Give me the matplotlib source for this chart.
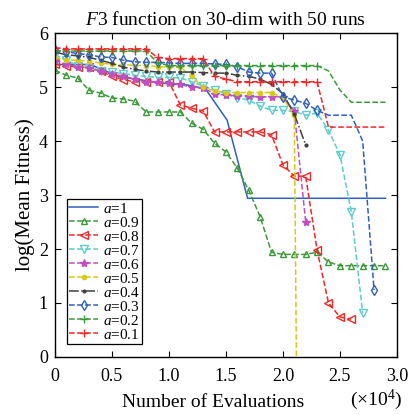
import matplotlib
matplotlib.use("Agg")
import matplotlib.pyplot as plt
import numpy as np

plt.rcParams['font.family'] = ['Liberation Serif', 'DejaVu Serif']
plt.rcParams['mathtext.fontset'] = 'custom'
plt.rcParams['mathtext.rm'] = 'Liberation Serif'
plt.rcParams['mathtext.it'] = 'Liberation Serif:italic'

# x positions: evaluations (x10^4), one point every 1000 evaluations
x_all = [round(0.1 * i, 1) for i in range(30)]

labels = ['$a$=1', '$a$=0.9', '$a$=0.8', '$a$=0.7', '$a$=0.6',
          '$a$=0.5', '$a$=0.4', '$a$=0.3', '$a$=0.2', '$a$=0.1']

# a = 1 (irregular sample points)
x_a10 = [0.0, 0.31, 0.57, 1.0, 1.16, 1.32, 1.51, 1.69, 2.9]
y_a10 = [5.42, 5.42, 5.19, 5.06, 5.04, 4.97, 4.39, 2.94, 2.94]

y_a09 = [5.31, 5.22, 5.17, 4.94, 4.89, 4.80, 4.78, 4.74, 4.54, 4.54,
         4.54, 4.54, 4.33, 4.22, 3.96, 3.80, 3.50, 3.09, 2.60, 1.94,
         1.90, 1.90, 1.90, 1.94, 1.76, 1.69, 1.69, 1.69, 1.69, 1.69]
y_a08 = [5.42, 5.40, 5.37, 5.37, 5.30, 5.20, 5.14, 5.10, 5.10, 5.10,
         5.10, 4.67, 4.61, 4.56, 4.17, 4.17, 4.17, 4.17, 4.17, 4.12,
         3.56, 3.35, 3.35, 1.98, 1.00, 0.74, 0.70]
y_a07 = [5.60, 5.50, 5.40, 5.35, 5.30, 5.28, 5.25, 5.22, 5.20, 5.18,
         5.18, 5.17, 5.10, 5.02, 4.95, 4.88, 4.80, 4.76, 4.65, 4.57,
         4.57, 4.55, 4.48, 4.52, 4.20, 3.75, 2.69, 0.81]
y_a06 = [5.50, 5.42, 5.38, 5.35, 5.30, 5.25, 5.20, 5.15, 5.10, 5.10,
         5.08, 5.05, 5.00, 4.98, 4.88, 4.85, 4.84, 4.83, 4.82, 4.82,
         4.82, 4.55, 2.50]
y_a05 = [5.55, 5.50, 5.50, 5.48, 5.45, 5.42, 5.42, 5.40, 5.40, 5.38,
         5.37, 5.37, 5.20, 5.00, 4.93, 4.90, 4.90, 4.90, 4.90, 4.90,
         4.80, 4.48, -20.0]
y_a04 = [5.65, 5.60, 5.58, 5.55, 5.50, 5.44, 5.37, 5.33, 5.30, 5.28,
         5.28, 5.28, 5.28, 5.27, 5.26, 5.26, 5.22, 5.20, 5.15, 5.05,
         4.88, 4.50, 3.93]
y_a03 = [5.68, 5.66, 5.62, 5.60, 5.56, 5.55, 5.50, 5.47, 5.46, 5.46,
         5.45, 5.44, 5.44, 5.44, 5.43, 5.42, 5.38, 5.28, 5.26, 5.26,
         4.82, 4.76, 4.70, 4.57, 4.48, 4.48, 4.48, 4.00, 1.24]
y_a02 = [5.67, 5.67, 5.67, 5.67, 5.67, 5.67, 5.67, 5.67, 5.67, 5.45,
         5.40, 5.40, 5.40, 5.40, 5.40, 5.40, 5.40, 5.40, 5.40, 5.40,
         5.40, 5.40, 5.40, 5.40, 5.30, 4.95, 4.72, 4.72, 4.72, 4.72]
y_a01 = [5.73, 5.71, 5.71, 5.71, 5.71, 5.71, 5.71, 5.71, 5.71, 5.55,
         5.53, 5.53, 5.53, 5.53, 5.20, 5.15, 5.10, 5.10, 5.10, 5.10,
         5.10, 5.10, 5.10, 5.10, 4.26, 4.26, 4.26, 4.26, 4.26, 4.26]

series = [y_a09, y_a08, y_a07, y_a06, y_a05, y_a04, y_a03, y_a02, y_a01]
colors = ['#3a9a3a', '#f02828', '#5ccccc', '#c050c0', '#d8c818',
          '#404040', '#2f5fbf', '#3a9a3a', '#f02828']
markers = ['^', '<', 'v', '*', '.', '.', 'd', '+', '+']
msizes = [5, 6, 6, 6, 6, 4, 5, 6, 6]
markevery_list = [None, None, None, None, None, None,
                  list(range(24)) + [28], list(range(24)), list(range(24))]
linestyles = ['--', '--', '--', '--', '--', '-.', '--', '--', '--']

fig = plt.figure(figsize=(4.10, 4.15), dpi=100)
ax = fig.add_axes([0.134, 0.140, 0.834, 0.780])

ax.plot(x_a10, y_a10, '-', color='#2f5fbf', lw=1.1, label=labels[0])
for ys, c, m, ms, me, ls, lab in zip(series, colors, markers, msizes,
                                     markevery_list, linestyles, labels[1:]):
    xs = x_all[:len(ys)]
    mfc = c if m in ('.', '+', '*') else 'none'
    ax.plot(xs, ys, linestyle=ls, color=c, lw=1.1, marker=m, ms=ms,
            mfc=mfc, mec=c, mew=1.0, markevery=me, label=lab)

ax.set_xlim(0, 3.0)
ax.set_ylim(0, 6)
ax.set_xticks([0, 0.5, 1.0, 1.5, 2.0, 2.5, 3.0])
ax.set_xticklabels(['0', '0.5', '1.0', '1.5', '2.0', '2.5', '3.0'])
ax.set_yticks([0, 1, 2, 3, 4, 5, 6])
ax.tick_params(direction='in', top=True, right=True, labelsize=13,
               length=4, width=0.8)
ax.tick_params(axis='x', pad=8)
ax.tick_params(axis='y', pad=5)
for s in ax.spines.values():
    s.set_linewidth(1.0)

ax.set_title('$F$3 function on 30-dim with 50 runs', fontsize=14, pad=6)
ax.set_ylabel('log(Mean Fitness)', fontsize=15, labelpad=3)
fig.text(0.52, 0.031, 'Number of Evaluations', fontsize=14,
         ha='center', va='center')
fig.text(0.917, 0.036, '($\\times$10$^4$)', fontsize=14,
         ha='center', va='center')

leg = ax.legend(loc='lower left', bbox_to_anchor=(0.035, 0.04),
                borderaxespad=0, fontsize=11, handlelength=1.9,
                handletextpad=0.3, labelspacing=0.0, borderpad=0.15,
                fancybox=False, edgecolor='black', framealpha=1)
leg.get_frame().set_linewidth(0.9)

fig.savefig('out.png', dpi=100)
